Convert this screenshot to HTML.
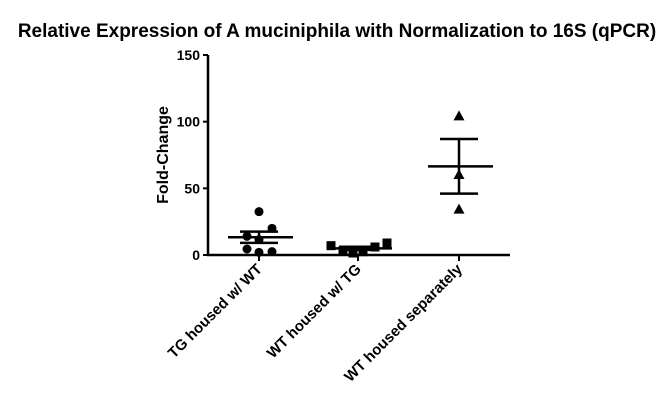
<!DOCTYPE html>
<html><head><meta charset="utf-8"><style>
body{margin:0;background:#fff;}
svg{display:block;font-family:"Liberation Sans",Arial,sans-serif;}
</style></head><body>
<svg id="chart" width="672" height="401" viewBox="0 0 672 401">
<text x="337" y="37" text-anchor="middle" font-size="19" font-weight="bold">Relative Expression of A muciniphila with Normalization to 16S (qPCR)</text>
<text transform="translate(168,155) rotate(-90)" text-anchor="middle" font-size="16" font-weight="bold">Fold-Change</text>
<g id="axes"></g>
<g id="marks"></g>
</svg>
<script>
const categories = ["TG housed w/ WT", "WT housed w/ TG", "WT housed separately"];
const group1 = [32.5, 20, 14, 11.5, 4.5, 2, 2.5];
const group2 = [7, 3, 1.5, 2.5, 6, 9];
const group3 = [104, 60, 34];
const means = [13.3, 5, 66.5];
const sems = [4.2, 1.2, 20.5];
const yTicks = [0, 50, 100, 150];
const ns = "http://www.w3.org/2000/svg";
const x0 = 208, x1 = 510, yBase = 255, yTop = 55;
const catX = [259, 358, 459];
const xOffsets = [[0,13,-12,0,-12,0,13],[-27,-15,-5,5,17,29],[0,0,0]];
function y(v){ return yBase - (v/150)*(yBase-yTop); }
function mk(tag, attrs, parent){ const e=document.createElementNS(ns,tag); for(const k in attrs) e.setAttribute(k,attrs[k]); parent.appendChild(e); return e; }
const axes=document.getElementById('axes'), marks=document.getElementById('marks');
let l=mk('line',{x1:x0,y1:yTop,x2:x0,y2:yBase+1,stroke:'#000','stroke-width':2.5},axes);
 
l=mk('line',{x1:x0-1,y1:yBase,x2:x1,y2:yBase,stroke:'#000','stroke-width':2.5},axes);
 
yTicks.forEach(t=>{
  const tk=mk('line',{x1:x0-5,y1:y(t),x2:x0,y2:y(t),stroke:'#000','stroke-width':2},axes);
   
  const tx=mk('text',{x:x0-8,y:y(t)+5,'text-anchor':'end','font-size':14,'font-weight':'bold'},axes);
  tx.textContent=t;
   
});
categories.forEach((c,i)=>{
  const tk=mk('line',{x1:catX[i],y1:yBase,x2:catX[i],y2:yBase+6,stroke:'#000','stroke-width':2},axes);
   
  const tx=mk('text',{transform:`translate(${catX[i]+4},${yBase+15}) rotate(-45)`,'text-anchor':'end','font-size':15,'font-weight':'bold'},axes);
  tx.textContent=c;
   
});
const groups=[group1,group2,group3];
groups.forEach((g,i)=>{
  g.forEach((v,j)=>{
    const cx=catX[i]+(xOffsets[i][j]||0), cy=y(v); let m;
    if(i===0) m=mk('circle',{cx:cx,cy:cy,r:4.5,fill:'#000'},marks);
    else if(i===1) m=mk('rect',{x:cx-4.5,y:cy-4.5,width:9,height:9,fill:'#000'},marks);
    else m=mk('polygon',{points:`${cx},${cy-6} ${cx-5.5},${cy+4} ${cx+5.5},${cy+4}`,fill:'#000'},marks);
     
  });
  const cx=catX[i];
  const ml=mk('line',{x1:cx-31,y1:y(means[i]),x2:cx+34,y2:y(means[i]),stroke:'#000','stroke-width':2.5},marks);
   
  const sv=mk('line',{x1:cx,y1:y(means[i]+sems[i]),x2:cx,y2:y(means[i]-sems[i]),stroke:'#000','stroke-width':2.5},marks);
   
  [means[i]+sems[i],means[i]-sems[i]].forEach(v=>{
    const c=mk('line',{x1:cx-19,y1:y(v),x2:cx+19,y2:y(v),stroke:'#000','stroke-width':2.5},marks);
     
  });
});
</script>
</body></html>
